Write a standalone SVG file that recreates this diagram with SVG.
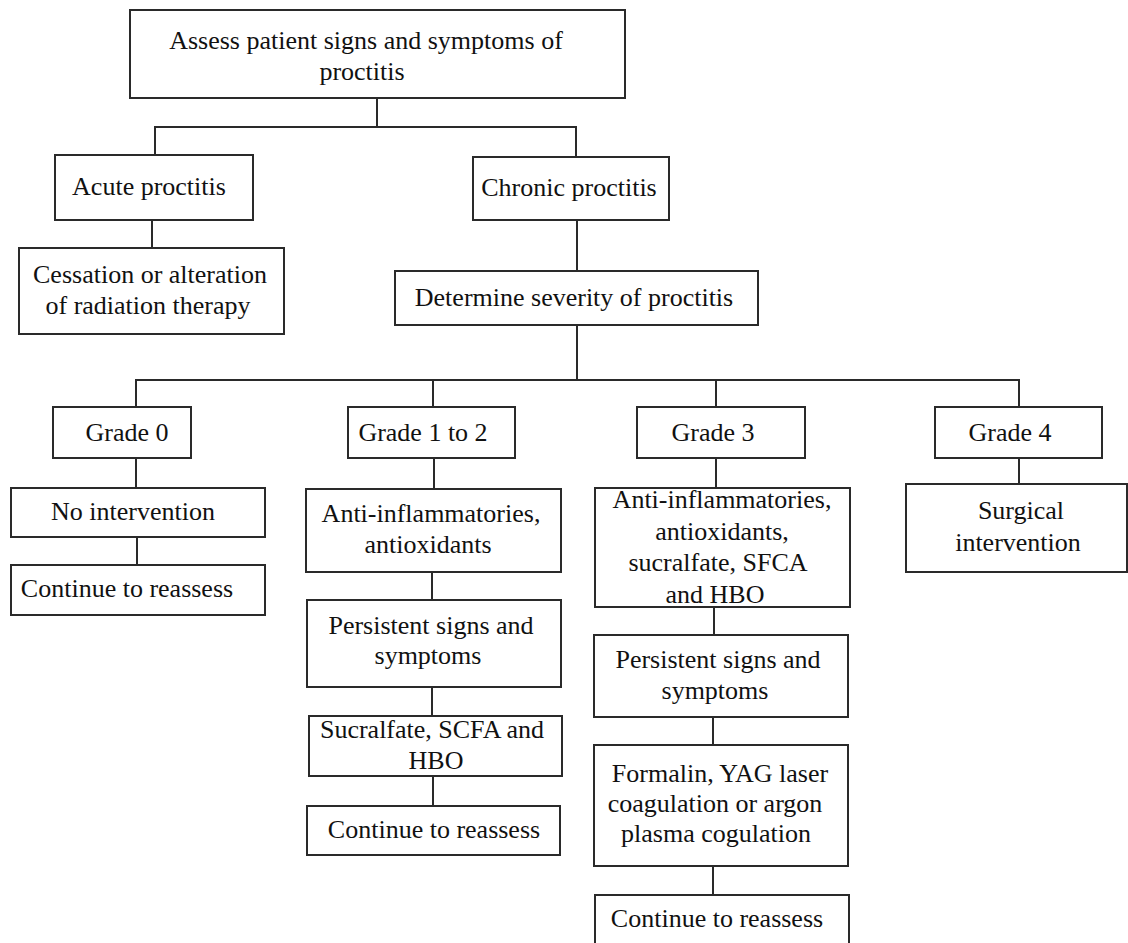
<svg xmlns="http://www.w3.org/2000/svg" width="1128" height="943" viewBox="0 0 1128 943">
<style>
.box{fill:#fff;stroke:#2a2a2a;stroke-width:2}
.conn{fill:none;stroke:#2a2a2a;stroke-width:2}
text{font-family:"Liberation Serif","Times New Roman",serif;font-size:26px;fill:#111;text-anchor:middle}
</style>
<rect x="0" y="0" width="1128" height="943" fill="#fff"/>
<g id="connectors">
<path class="conn" d="M377 98V127M155 155V127H576V157"/>
<path class="conn" d="M152 220V248"/>
<path class="conn" d="M577 220V271"/>
<path class="conn" d="M577 325V380M136 407V380H1019V407M433 380V407M716 380V407"/>
<path class="conn" d="M136 458V488M137 537V565"/>
<path class="conn" d="M434 458V489M432 572V600M432 687V716M433 776V806"/>
<path class="conn" d="M716 458V488M714 607V635M713 717V745M713 866V895"/>
<path class="conn" d="M1019 458V484"/>
</g>
<g id="n-assess"><rect class="box" x="130" y="10" width="495" height="88"/><text x="366" y="49">Assess patient signs and symptoms of</text><text x="362" y="80">proctitis</text></g>
<g id="n-acute"><rect class="box" x="55" y="155" width="198" height="65"/><text x="149" y="195">Acute proctitis</text></g>
<g id="n-chronic"><rect class="box" x="473" y="157" width="196" height="63"/><text x="569" y="196">Chronic proctitis</text></g>
<g id="n-cessation"><rect class="box" x="19" y="248" width="265" height="86"/><text x="150" y="283">Cessation or alteration</text><text x="148" y="314">of radiation therapy</text></g>
<g id="n-determine"><rect class="box" x="395" y="271" width="363" height="54"/><text x="574" y="306">Determine severity of proctitis</text></g>
<g id="n-grade0"><rect class="box" x="53" y="407" width="138" height="51"/><text x="127" y="441">Grade 0</text></g>
<g id="n-grade12"><rect class="box" x="348" y="407" width="167" height="51"/><text x="423" y="441">Grade 1 to 2</text></g>
<g id="n-grade3"><rect class="box" x="637" y="407" width="168" height="51"/><text x="713" y="441">Grade 3</text></g>
<g id="n-grade4"><rect class="box" x="935" y="407" width="167" height="51"/><text x="1010" y="441">Grade 4</text></g>
<g id="n-nointervention"><rect class="box" x="11" y="488" width="254" height="49"/><text x="133" y="520">No intervention</text></g>
<g id="n-continue0"><rect class="box" x="11" y="565" width="254" height="50"/><text x="127" y="597">Continue to reassess</text></g>
<g id="n-anti12"><rect class="box" x="306" y="489" width="255" height="83"/><text x="431" y="522">Anti-inflammatories,</text><text x="428" y="553">antioxidants</text></g>
<g id="n-persist12"><rect class="box" x="307" y="600" width="254" height="87"/><text x="431" y="634">Persistent signs and</text><text x="428" y="664">symptoms</text></g>
<g id="n-sucralfate"><rect class="box" x="309" y="716" width="253" height="60"/><text x="432" y="738">Sucralfate, SCFA and</text><text x="436" y="769">HBO</text></g>
<g id="n-continue12"><rect class="box" x="307" y="806" width="253" height="49"/><text x="434" y="838">Continue to reassess</text></g>
<g id="n-anti3"><rect class="box" x="595" y="488" width="255" height="119"/><text x="722" y="508">Anti-inflammatories,</text><text x="722" y="540">antioxidants,</text><text x="718" y="571">sucralfate, SFCA</text><text x="715" y="603">and HBO</text></g>
<g id="n-surgical"><rect class="box" x="906" y="484" width="221" height="88"/><text x="1021" y="519">Surgical</text><text x="1018" y="551">intervention</text></g>
<g id="n-persist3"><rect class="box" x="594" y="635" width="254" height="82"/><text x="718" y="668">Persistent signs and</text><text x="715" y="699">symptoms</text></g>
<g id="n-formalin"><rect class="box" x="594" y="745" width="254" height="121"/><text x="720" y="782">Formalin, YAG laser</text><text x="715" y="812">coagulation or argon</text><text x="716" y="842">plasma cogulation</text></g>
<g id="n-continue3"><rect class="box" x="595" y="895" width="254" height="60"/><text x="717" y="927">Continue to reassess</text></g>
</svg>
